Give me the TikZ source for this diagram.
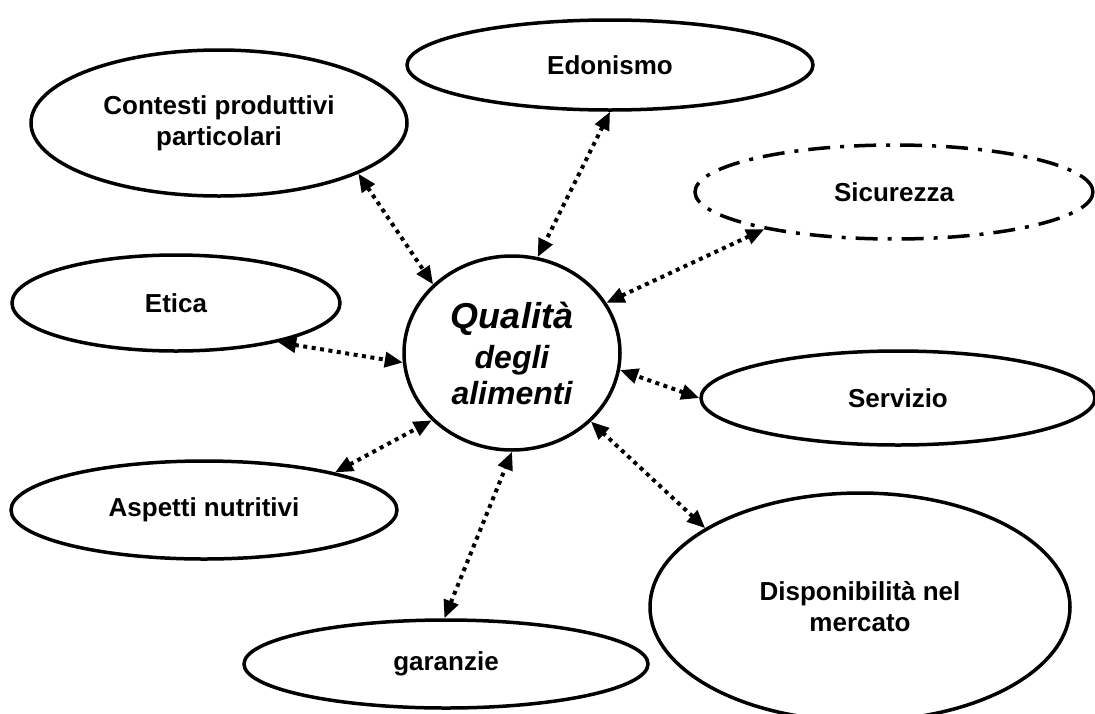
\documentclass[tikz,border=0pt]{standalone}
\usepackage{fontspec}
\setmainfont{Liberation Sans}
\usetikzlibrary{shapes.geometric,arrows.meta}
\begin{document}
\begin{tikzpicture}[x=1pt,y=-1pt,
  bubble/.style={ellipse,draw,line width=3.5pt,inner sep=0pt,align=center,
    font=\fontsize{26}{31}\selectfont\bfseries},
  link/.style={line width=4pt,dash pattern=on 4pt off 4.5pt,
    {Triangle[length=18pt,width=15pt]}-{Triangle[length=18pt,width=15pt]}}]
\useasboundingbox (0,0) rectangle (1095,713);

\node[bubble,minimum width=216pt,minimum height=194pt,
  font=\fontsize{32}{36}\selectfont\bfseries\itshape] (qual) at (512,353)
  {{\fontsize{36}{40}\selectfont Qualità}\\[4pt]
   degli\\
   alimenti};

\node[bubble,minimum width=376pt,minimum height=146pt] (contesti) at (219,123) {Contesti produttivi\\particolari};
\node[bubble,minimum width=406pt,minimum height=90pt] (edon) at (610,65) {Edonismo};
\node[bubble,minimum width=398pt,minimum height=94pt,
  dash pattern=on 22pt off 10pt on 4pt off 10pt] (sicur) at (894,192) {Sicurezza};
\node[bubble,minimum width=328pt,minimum height=96pt] (etica) at (176,303) {Etica};
\node[bubble,minimum width=394pt,minimum height=94pt] (serv) at (898,398) {Servizio};
\node[bubble,minimum width=386pt,minimum height=98pt] (nutri) at (204,510) {Aspetti nutritivi};
\node[bubble,minimum width=404pt,minimum height=88pt] (garan) at (446,664) {garanzie};
\node[bubble,minimum width=420pt,minimum height=228pt] (dispo) at (860,607) {Disponibilità nel\\mercato};

\draw[link] (contesti.-20.5) -- (qual.139);
\draw[link] (edon.-90) -- (qual.75);
\draw[link] (sicur.196) -- (qual.28);
\draw[link] (etica.-21) -- (qual.185);
\draw[link] (serv.180) -- (qual.-9);
\draw[link] (nutri.16) -- (qual.220);
\draw[link] (garan.92) -- (qual.-90);
\draw[link] (dispo.153) -- (qual.-41.5);
\end{tikzpicture}
\end{document}
